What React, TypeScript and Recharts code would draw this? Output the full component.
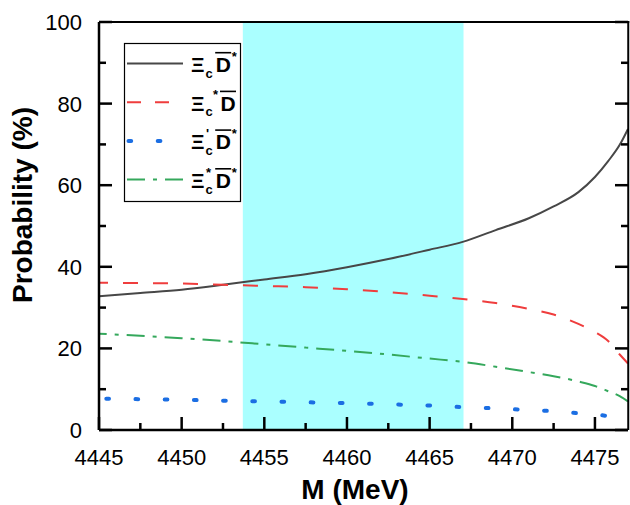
import { LineChart, Line, XAxis, YAxis, ReferenceArea } from "recharts";

const mass = [4445, 4447.5, 4450, 4452.5, 4455, 4457.5, 4460, 4462.5, 4465, 4467, 4469, 4471, 4472.5, 4474, 4475, 4475.8, 4476.5, 4477];
const xiCDstar = [32.8, 33.6, 34.4, 35.6, 36.9, 38.2, 39.9, 41.9, 44.2, 46.1, 49.0, 51.9, 54.8, 58.3, 62.0, 65.9, 69.9, 73.8];
const xiCstarD = [36.1, 36.0, 35.9, 35.6, 35.3, 35.0, 34.5, 33.8, 32.9, 32.1, 31.1, 29.7, 28.3, 26.0, 24.0, 21.8, 18.5, 16.3];
const xiCprimeDstar = [7.7, 7.55, 7.4, 7.2, 7.0, 6.8, 6.6, 6.3, 6.0, 5.6, 5.3, 4.9, 4.6, 4.1, 3.8, 3.4, 2.9, 2.4];
const xiCstarDstar = [23.6, 23.1, 22.5, 21.8, 21.0, 20.2, 19.4, 18.5, 17.5, 16.7, 15.5, 14.2, 13.2, 11.9, 10.8, 9.5, 8.3, 7.0];

const xDomain = [4445, 4477];
const yDomain = [0, 100];
const xTicks = [4445, 4447.5, 4450, 4452.5, 4455, 4457.5, 4460, 4462.5, 4465, 4467.5, 4470, 4472.5, 4475];
const yTicks = [0, 10, 20, 30, 40, 50, 60, 70, 80, 90, 100];
const band = [4453.7, 4467.05];

const data = mass.map((m, i) => ({
  m,
  a: xiCDstar[i],
  b: xiCstarD[i],
  c: xiCprimeDstar[i],
  d: xiCstarDstar[i],
}));

const W = 630;
const H = 505;
const margin = { top: 22, right: 2, bottom: 0, left: 0 };
const yAxisW = 99;
const xAxisH = 75;
const plot = {
  left: margin.left + yAxisW,
  right: W - margin.right,
  top: margin.top,
  bottom: H - margin.bottom - xAxisH,
};

const font = "'Liberation Sans', Arial, sans-serif";
const colors = { a: "#474747", b: "#ef3d3d", c: "#1b6ee3", d: "#35a85c" };

const XTick = ({ x, y, payload }: any) => {
  const major = payload.value % 5 === 0;
  return (
    <g>
      <line x1={x} x2={x} y1={y} y2={y - (major ? 13 : 7)} stroke="#000" strokeWidth={2.5} />
      {major && (
        <text x={x} y={y + 35} textAnchor="middle" fontSize={22} fontFamily={font} fill="#000">
          {payload.value}
        </text>
      )}
    </g>
  );
};

const YTickLeft = ({ x, y, payload }: any) => {
  const major = payload.value % 20 === 0;
  return (
    <g>
      <line x1={x} x2={x + (major ? 13 : 7)} y1={y} y2={y} stroke="#000" strokeWidth={2.5} />
      {major && (
        <text x={x - 17} y={y + 8} textAnchor="end" fontSize={22} fontFamily={font} fill="#000">
          {payload.value}
        </text>
      )}
    </g>
  );
};

const yOf = (v: number) => plot.bottom - ((v - yDomain[0]) / (yDomain[1] - yDomain[0])) * (plot.bottom - plot.top);

// inward ticks on the right edge
const RightTicks = () => (
  <g>
    {yTicks.map((v) => (
      <line key={v} x1={plot.right} x2={plot.right - (v % 20 === 0 ? 13 : 7)} y1={yOf(v)} y2={yOf(v)} stroke="#000" strokeWidth={2.5} />
    ))}
  </g>
);

// legend rows: line style + label pieces
const legendRows = [
  { key: "a", dash: undefined, sup1: "", sup1x: 0, dx: 215.7, sup2: "*" },
  { key: "b", dash: "14 14", sup1: "*", sup1x: 213, dx: 220.5, sup2: "" },
  { key: "c", dash: "2.7 26.5", sup1: "'", sup1x: 206, dx: 215.7, sup2: "*" },
  { key: "d", dash: "18 8 4 8", sup1: "*", sup1x: 206, dx: 215.7, sup2: "*" },
];

const ChartLegend = () => (
  <g fontFamily={font} fontWeight="bold" fill="#000">
    <rect x={124.5} y={43.5} width={116} height={158} fill="#fff" stroke="#000" strokeWidth={1.2} />
    {legendRows.map((r, i) => {
      const base = 72 + i * 38.7;
      const k = r.key as keyof typeof colors;
      return (
        <g key={r.key}>
          <line
            x1={127}
            x2={183}
            y1={base - 8.5}
            y2={base - 8.5}
            stroke={colors[k]}
            strokeWidth={k === "c" ? 4 : 2}
            strokeLinecap={k === "c" ? "round" : "butt"}
            strokeDasharray={r.dash}
            strokeDashoffset={k === "c" ? -1.5 : 0}
          />
          <text x={191} y={base} fontSize={21}>Ξ</text>
          <text x={205.5} y={base + 5.5} fontSize={13}>c</text>
          {r.sup1 && <text x={r.sup1x} y={base - 11.5} fontSize={13}>{r.sup1}</text>}
          <text x={r.dx} y={base} fontSize={21}>D</text>
          <line x1={r.dx - 0.5} x2={r.dx + 15.5} y1={base - 19.3} y2={base - 19.3} stroke="#000" strokeWidth={1.6} />
          {r.sup2 && <text x={r.dx + 16} y={base - 11.5} fontSize={13}>{r.sup2}</text>}
        </g>
      );
    })}
  </g>
);

export default function App() {
  return (
    <div style={{ position: "fixed", left: 0, top: 0, width: W, height: H, background: "#fff" }}>
      <LineChart width={W} height={H} data={data} margin={margin}>
        <ReferenceArea x1={band[0]} x2={band[1]} y1={yDomain[0]} y2={yDomain[1]} fill="#aaffff" fillOpacity={1} stroke="none" />
        <XAxis
          dataKey="m"
          type="number"
          domain={xDomain}
          allowDataOverflow
          ticks={xTicks}
          interval={0}
          height={xAxisH}
          tickSize={0}
          tickMargin={0}
          tickLine={false}
          tick={<XTick />}
          axisLine={{ stroke: "#000", strokeWidth: 2.5 }}
        />
        <YAxis
          type="number"
          domain={yDomain}
          ticks={yTicks}
          interval={0}
          width={yAxisW}
          tickSize={0}
          tickMargin={0}
          tickLine={false}
          tick={<YTickLeft />}
          axisLine={{ stroke: "#000", strokeWidth: 2.5 }}
        />
        <Line dataKey="a" type="monotone" stroke={colors.a} strokeWidth={2} dot={false} isAnimationActive={false} />
        <Line dataKey="b" type="monotone" stroke={colors.b} strokeWidth={2} strokeDasharray="15 15" strokeDashoffset={6} dot={false} isAnimationActive={false} />
        <Line dataKey="c" type="monotone" stroke={colors.c} strokeWidth={4} strokeLinecap="round" strokeDasharray="2.7 26.5" strokeDashoffset={21.9} dot={false} isAnimationActive={false} />
        <Line dataKey="d" type="monotone" stroke={colors.d} strokeWidth={2} strokeDasharray="18 8 4 8" strokeDashoffset={10.3} dot={false} isAnimationActive={false} />
      </LineChart>
      {/* top and right edges of the box */}
      <div
        style={{
          position: "absolute",
          left: plot.left,
          top: plot.top - 1.5,
          width: plot.right - plot.left,
          height: plot.bottom - plot.top + 1.5,
          borderTop: "2.5px solid #000",
          borderRight: "2.5px solid #000",
          boxSizing: "border-box",
          marginLeft: 0,
          transform: "translateX(1.25px)",
          pointerEvents: "none",
        }}
      />
      <svg width={W} height={H} style={{ position: "absolute", left: 0, top: 0, pointerEvents: "none" }}>
        <RightTicks />
        <ChartLegend />
        <text x={355} y={499} textAnchor="middle" fontSize={28} fontWeight="bold" fontFamily={font} fill="#000">
          M (MeV)
        </text>
        <text
          transform="translate(32 205) rotate(-90)"
          textAnchor="middle"
          fontSize={28}
          fontWeight="bold"
          fontFamily={font}
          fill="#000"
        >
          Probability (%)
        </text>
      </svg>
    </div>
  );
}
